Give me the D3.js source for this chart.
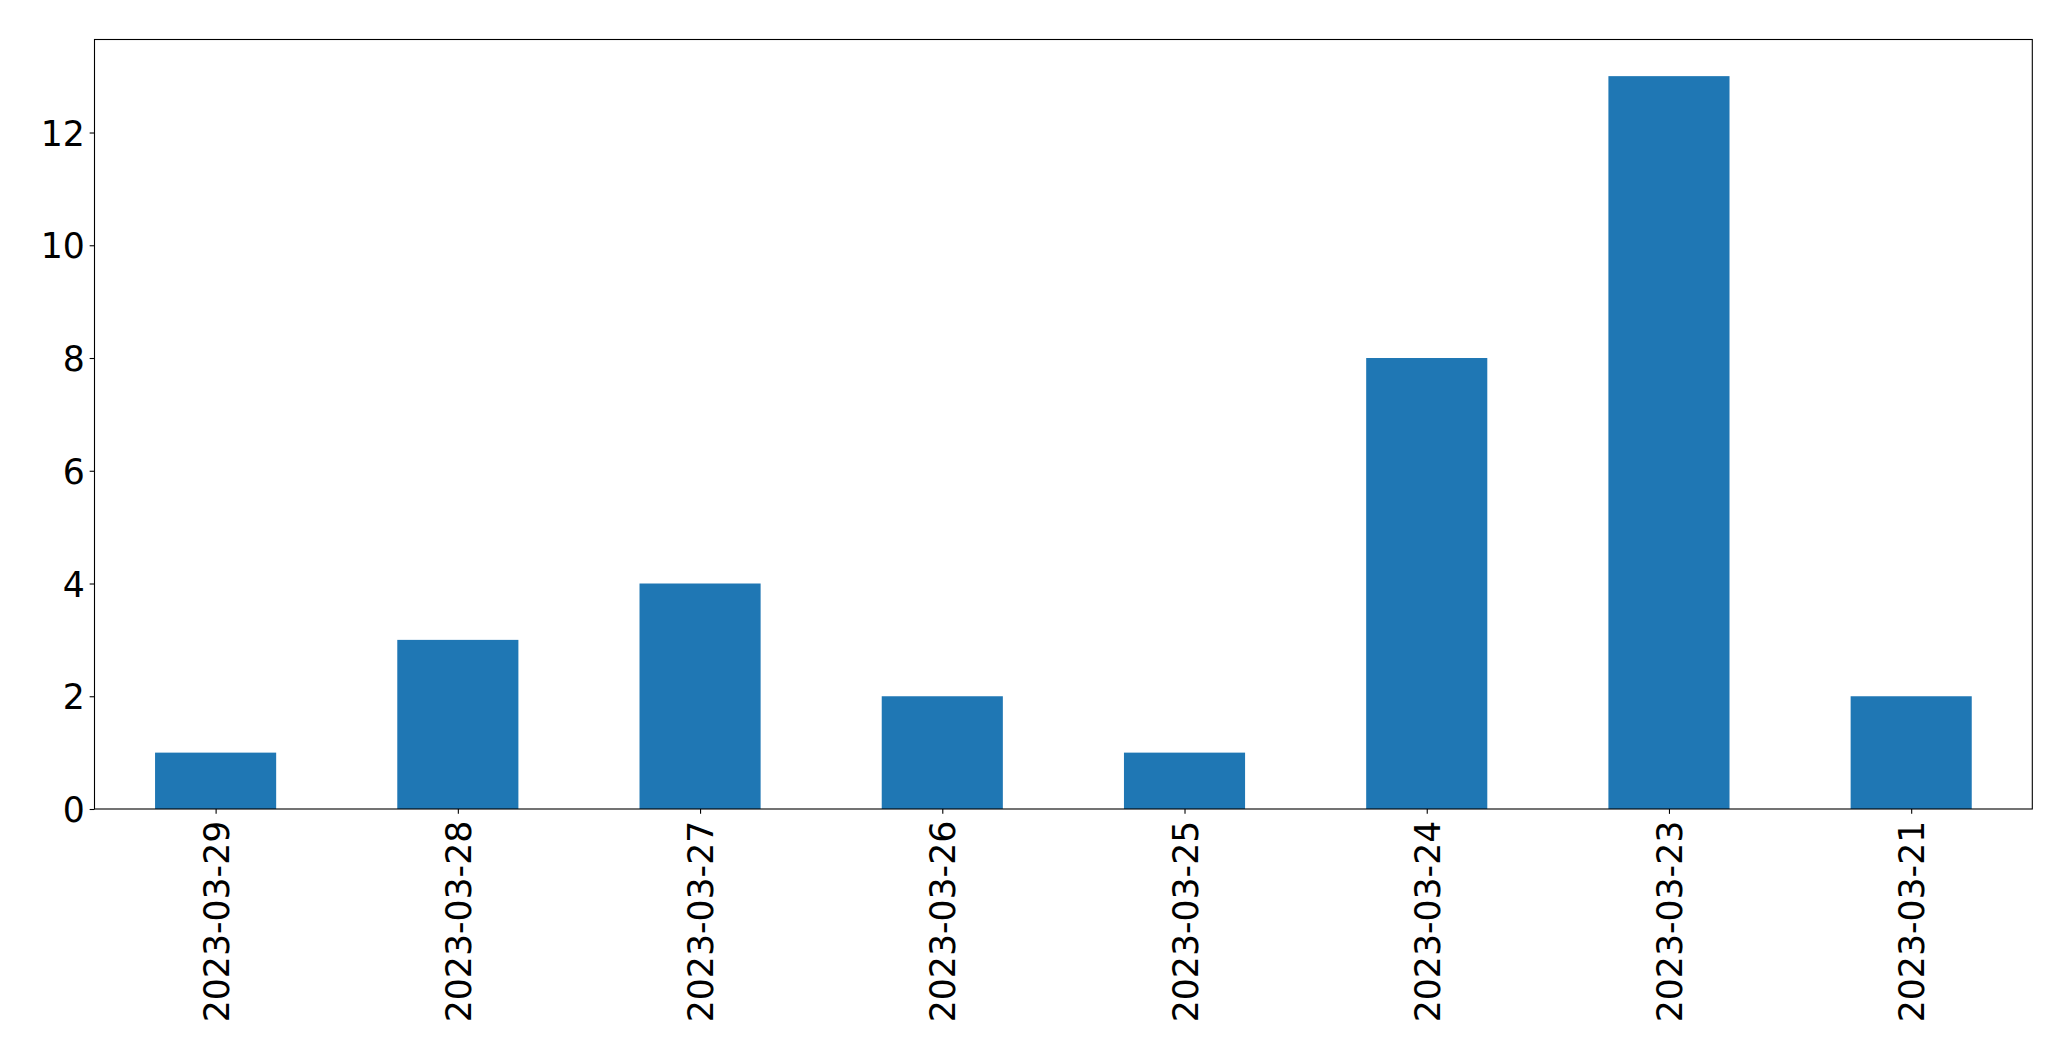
<!DOCTYPE html>
<html>
<head>
<meta charset="utf-8">
<script src="https://cdn.jsdelivr.net/npm/d3@7"></script>
<style>
html,body{margin:0;padding:0;background:#fff;}
svg{display:block;}
</style>
</head>
<body>
<svg id="chart" width="2071" height="1061"></svg>
<script>
const categories = ["2023-03-29","2023-03-28","2023-03-27","2023-03-26","2023-03-25","2023-03-24","2023-03-23","2023-03-21"];
const values = [1, 3, 4, 2, 1, 8, 13, 2];
const yTicks = [0, 2, 4, 6, 8, 10, 12];

const W = 2071, H = 1061;
const m = {left: 94.5, right: 2032.3, top: 39.5, bottom: 809};
const svg = d3.select("#chart");
const fontSize = 34.7;
const tickLen = 4.86, tickPad = 4.86;

const x = d3.scaleLinear().domain([-0.5, categories.length - 0.5]).range([m.left, m.right]);
const yMax = d3.max(values) * 1.05;
const y = d3.scaleLinear().domain([0, yMax]).range([m.bottom, m.top]);

svg.append("g").selectAll("rect").data(values).join("rect")
  .attr("x", (d,i) => x(i - 0.25))
  .attr("width", (d,i) => x(i + 0.25) - x(i - 0.25))
  .attr("y", d => y(d))
  .attr("height", d => y(0) - y(d))
  .attr("fill", "#1f77b4");

// y axis
const yAxis = d3.axisLeft(y).tickValues(yTicks).tickSize(tickLen).tickPadding(tickPad).tickFormat(d3.format("d"));
const gy = svg.append("g").attr("transform", `translate(${m.left},0)`).call(yAxis);
gy.select(".domain").remove();
gy.selectAll("line").attr("stroke", "#000").attr("stroke-width", 1.1);
gy.selectAll("text").attr("font-family", "DejaVu Sans").attr("font-size", fontSize).attr("fill", "#000").attr("dy", "0.36em");

// x axis
const xAxis = d3.axisBottom(x).tickValues(d3.range(categories.length)).tickSize(tickLen).tickPadding(tickPad).tickFormat(i => categories[i]);
const gx = svg.append("g").attr("transform", `translate(0,${m.bottom})`).call(xAxis);
gx.select(".domain").remove();
gx.selectAll("line").attr("stroke", "#000").attr("stroke-width", 1.1);
gx.selectAll("text")
  .attr("font-family", "DejaVu Sans").attr("font-size", fontSize).attr("fill", "#000")
  .attr("text-anchor", "end")
  .attr("transform", `translate(0,${tickLen + tickPad + 2}) rotate(-90)`)
  .attr("x", 0).attr("y", 0).attr("dy", "0.36em");

// frame
svg.append("rect")
  .attr("x", m.left).attr("y", m.top)
  .attr("width", m.right - m.left).attr("height", m.bottom - m.top)
  .attr("fill", "none").attr("stroke", "#000").attr("stroke-width", 1.1);
</script>
</body>
</html>
